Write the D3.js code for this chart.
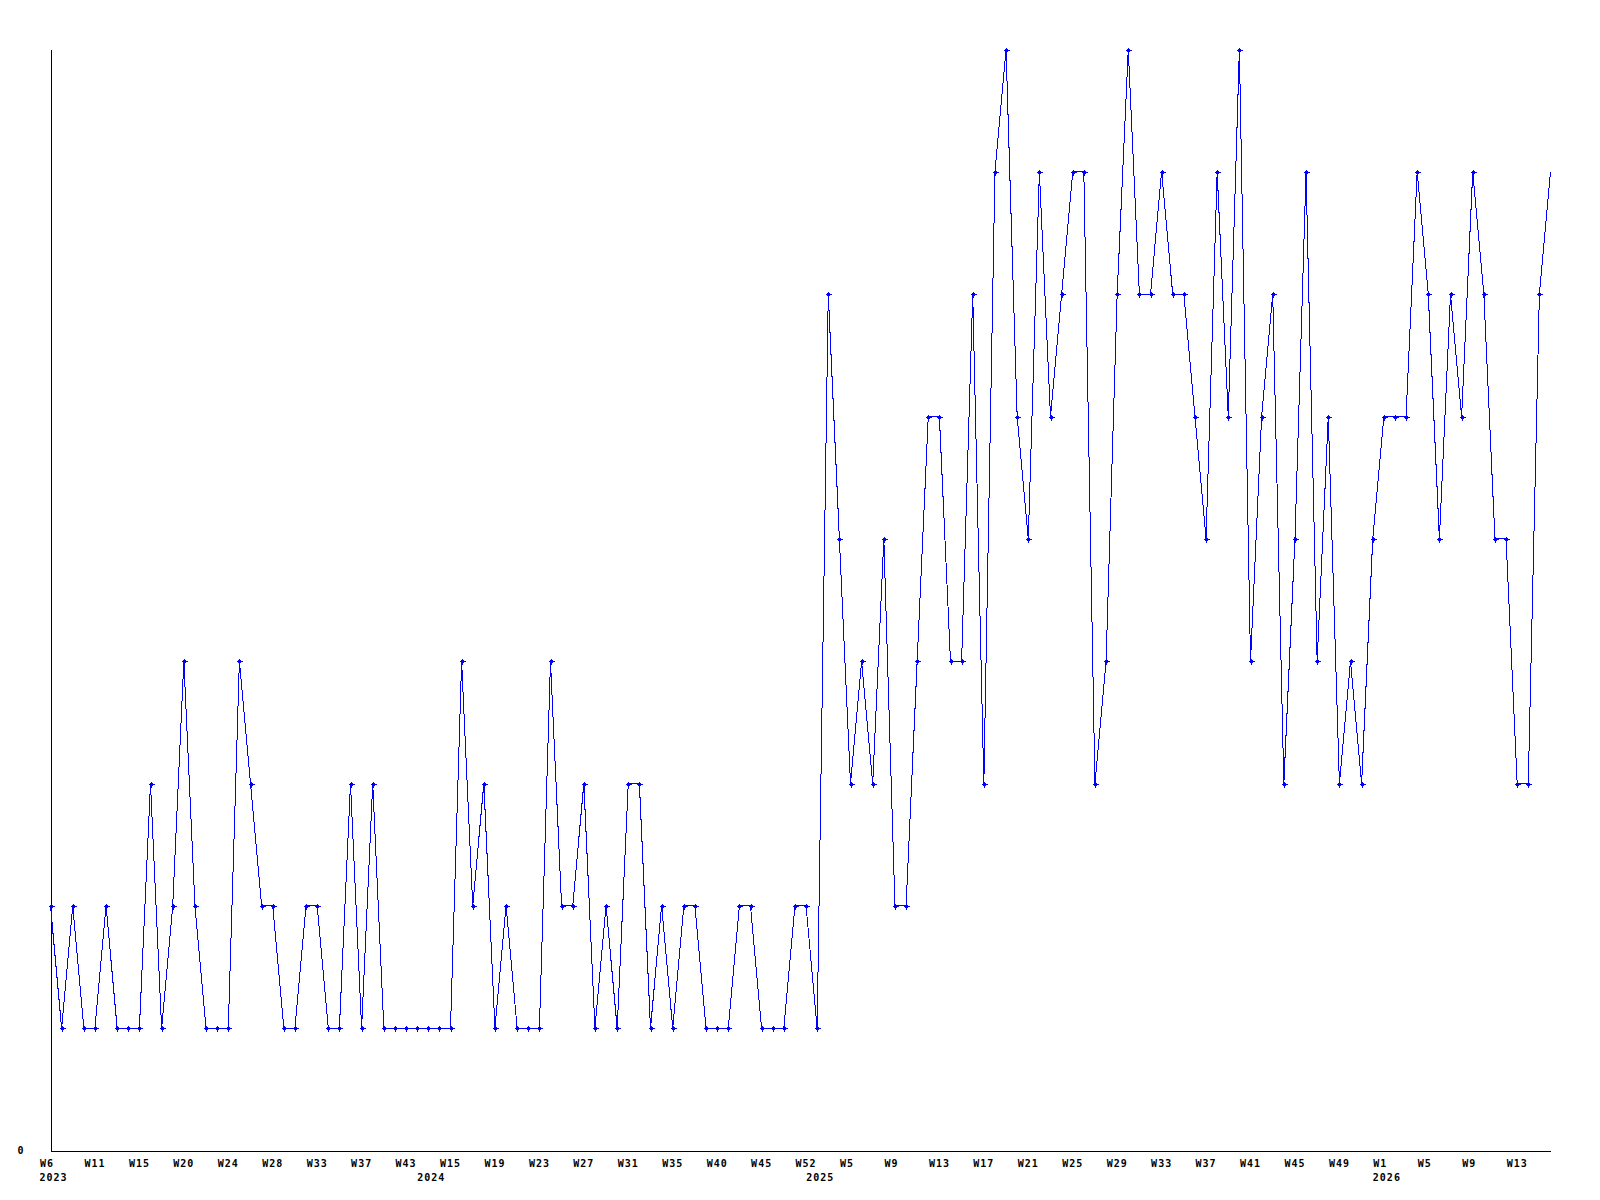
<!DOCTYPE html>
<html>
<head>
<meta charset="utf-8">
<script src="https://cdn.jsdelivr.net/npm/d3@7"></script>
<style>
  body { margin: 0; background: #fff; }
  svg { display: block; background: #fff; }
  text { font-family: "DejaVu Sans Mono", monospace; font-weight: bold; font-size: 10px; letter-spacing: 1px; fill: #000; }
</style>
</head>
<body>
<svg width="1600" height="1200"></svg>
<script>
// weeks that have a value, per year
const weeks2023 = [6, 7, 8, 10, 11, 12, 13, 14, 15, 16, 17, 18, 20, 21, 22, 23, 24, 25, 26, 27,
                   28, 29, 30, 32, 33, 34, 35, 36, 37, 38, 40, 41, 43, 44];
const weeks2024 = [13, 14, 15, 16, 17, 18, 19, 20, 21, 22, 23, 24, 25, 26, 27, 28, 29, 30, 31, 32,
                   33, 34, 35, 36, 37, 39, 40, 41, 43, 44, 45, 47, 49, 50, 52];
const weeks2025 = [2, 3, 4, 5, 6, 7, 8, 9, 10, 11, 12, 13, 14, 15, 16, 17, 18, 19, 20, 21,
                   22, 23, 24, 25, 26, 27, 28, 29, 30, 31, 32, 33, 34, 35, 36, 37, 38, 39, 40, 41,
                   42, 43, 44, 45, 46, 47, 48, 49, 50, 51, 52];
const weeks2026 = [1, 2, 3, 4, 5, 6, 7, 8, 9, 10, 11, 12, 13, 14, 15, 16];

const values = [
    2, 1, 2, 1, 1, 2, 1, 1, 1, 3, 1, 2, 4, 2, 1, 1, 1, 4, 3, 2,
    2, 1, 1, 2, 2, 1, 1, 3, 1, 3, 1, 1, 1, 1, 1, 1, 1, 4, 2, 3,
    1, 2, 1, 1, 1, 4, 2, 2, 3, 1, 2, 1, 3, 3, 1, 2, 1, 2, 2, 1,
    1, 1, 2, 2, 1, 1, 1, 2, 2, 1, 7, 5, 3, 4, 3, 5, 2, 2, 4, 6,
    6, 4, 4, 7, 3, 8, 9, 6, 5, 8, 6, 7, 8, 8, 3, 4, 7, 9, 7, 7,
    8, 7, 7, 6, 5, 8, 6, 9, 4, 6, 7, 3, 5, 8, 4, 6, 3, 4, 3, 5,
    6, 6, 6, 8, 7, 5, 7, 6, 8, 7, 5, 5, 3, 3, 7, 8
];

const yMax = 9;
const labelEvery = 4;

const points = [];
[[2023, weeks2023], [2024, weeks2024], [2025, weeks2025], [2026, weeks2026]].forEach(([year, weeks]) => {
    weeks.forEach((w, i) => {
        points.push({ key: year + "-W" + w, year: year, week: w, firstOfYear: i === 0 });
    });
});
points.forEach((p, i) => p.value = values[i]);

const svg = d3.select("svg");

const x = d3.scalePoint()
    .domain(points.map(d => d.key))
    .range([50.5, 1550.5]);

const y = d3.scaleLinear()
    .domain([0, yMax])
    .range([1150.5, 49.5]);

// y axis: only the zero is labelled
const yAxis = svg.append("g")
    .attr("transform", "translate(50.5,0)")
    .call(d3.axisLeft(y).tickValues([0]).tickSize(0).tickSizeOuter(0).tickPadding(26));
yAxis.select(".domain").attr("stroke", "#000").attr("shape-rendering", "crispEdges");
yAxis.selectAll("text").style("font-family", null).style("font-size", null).attr("font-size", null).attr("font-family", null);

// x axis with week labels every 4 points
const tickKeys = points.filter((d, i) => i % labelEvery === 0).map(d => d.key);
const weekOf = new Map(points.map(d => [d.key, d]));

const xAxis = svg.append("g")
    .attr("transform", "translate(0,1150.5)")
    .call(d3.axisBottom(x).tickValues(tickKeys).tickSize(0).tickSizeOuter(0)
        .tickFormat(k => "W" + weekOf.get(k).week));
xAxis.select(".domain").attr("stroke", "#000").attr("shape-rendering", "crispEdges");
xAxis.selectAll("text")
    .attr("text-anchor", "start")
    .attr("x", -11)
    .attr("y", 16)
    .attr("dy", null)
    .attr("font-size", null)
    .attr("font-family", null);
xAxis.attr("font-size", null).attr("font-family", null);
yAxis.attr("font-size", null).attr("font-family", null);

// year under the first point of each year
svg.append("g").selectAll("text")
    .data(points.filter(d => d.firstOfYear))
    .join("text")
    .attr("x", d => x(d.key) - 11)
    .attr("y", 1181)
    .text(d => d.year);

const line = d3.line()
    .x(d => x(d.key))
    .y(d => y(d.value));

svg.append("path")
    .datum(points)
    .attr("fill", "none")
    .attr("stroke", "#0000ff")
    .attr("stroke-width", 1)
    .attr("shape-rendering", "crispEdges")
    .attr("d", line);

// small crosses on the points (last one falls on the edge and is not drawn)
const marks = svg.append("g")
    .attr("fill", "#0000ff")
    .attr("stroke", "#0000ff")
    .attr("shape-rendering", "crispEdges");

marks.selectAll("path")
    .data(points.slice(0, -1))
    .join("path")
    .attr("transform", d => "translate(" + Math.round(x(d.key)) + "," + Math.round(y(d.value)) + ")")
    .attr("d", "M-2.5,0.5H3.5M0.5,-2.5V3.5")
    .attr("stroke-width", 1);

marks.selectAll("rect")
    .data(points.slice(0, -1))
    .join("rect")
    .attr("x", d => Math.round(x(d.key)) - 1)
    .attr("y", d => Math.round(y(d.value)) - 1)
    .attr("width", 3)
    .attr("height", 3)
    .attr("stroke", "none");
</script>
</body>
</html>
